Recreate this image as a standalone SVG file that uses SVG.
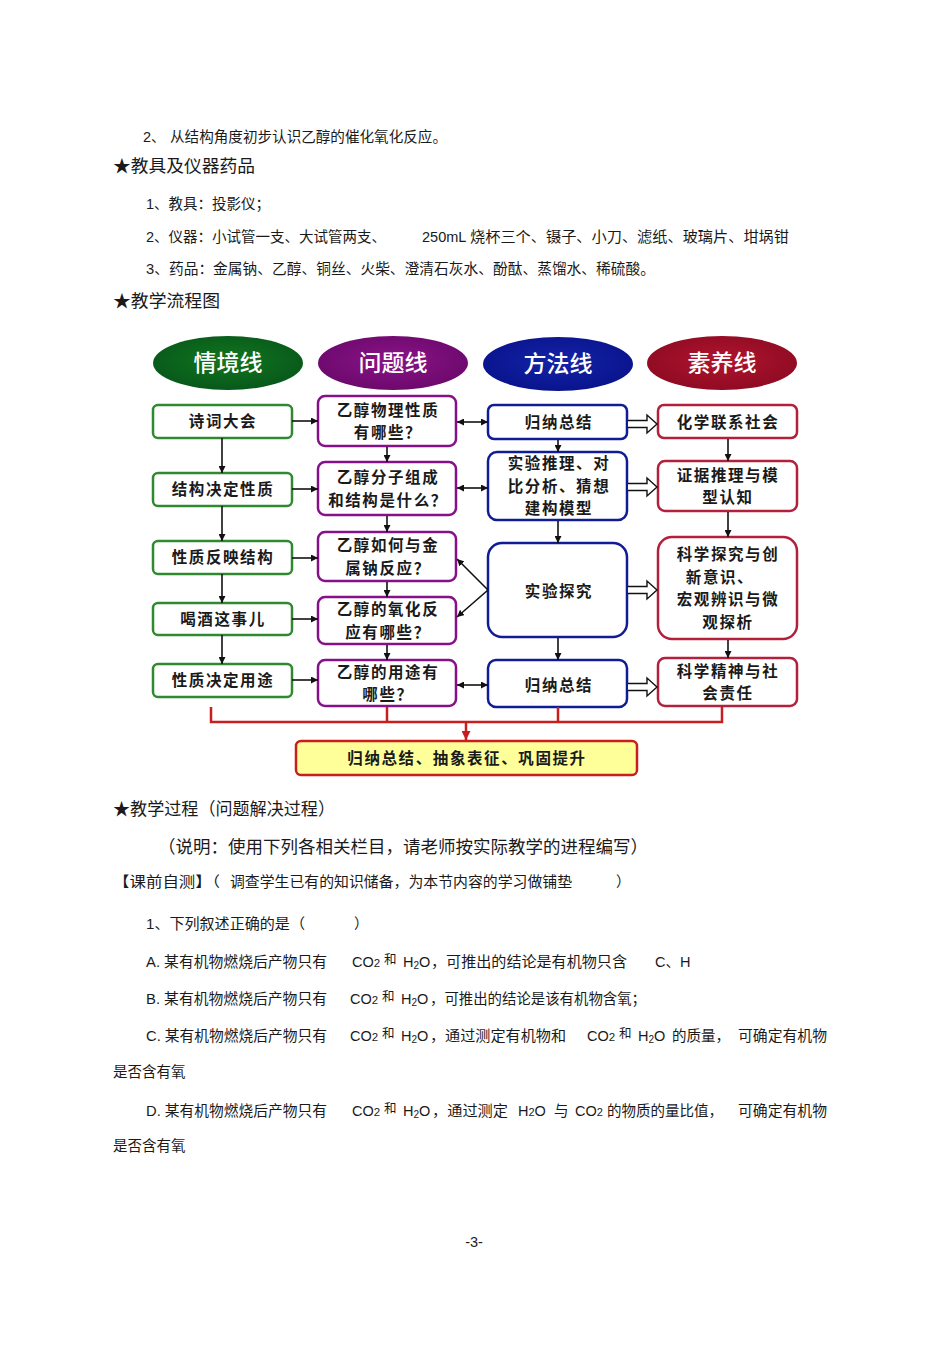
<svg xmlns="http://www.w3.org/2000/svg" width="950" height="1345" viewBox="0 0 950 1345">
<style>
.body{font-family:"Liberation Sans","Noto Sans CJK SC",sans-serif;font-size:14.5px;fill:#1a1a1a}
.hd2{font-family:"Liberation Sans","Noto Sans CJK SC",sans-serif;font-size:17.5px;fill:#1a1a1a}
.sup{font-family:"Noto Sans CJK SC",sans-serif;font-size:12.5px;fill:#1a1a1a}
.hd{font-family:"Noto Sans CJK SC","Liberation Sans",sans-serif;font-size:23px;fill:#ffffff;text-anchor:middle;font-weight:500}
.bt{font-family:"Noto Sans CJK SC","Liberation Sans",sans-serif;font-weight:700;font-size:15.5px;letter-spacing:1.6px;fill:#1a1a1a;text-anchor:middle}
.box{fill:#ffffff;stroke-width:2.5}
.g{stroke:#2f8a2f}
.p{stroke:#86108a}
.b{stroke:#101c96}
.r{stroke:#b3203c}
.ln{stroke:#111;stroke-width:1.6;fill:none}
.dbl{stroke:#111;stroke-width:1.4;fill:#ffffff}
.red{stroke:#c81e1e;stroke-width:2.5;fill:none}
</style>
<defs>
<marker id="ah" viewBox="0 0 10 10" refX="10" refY="5" markerWidth="7" markerHeight="7" markerUnits="userSpaceOnUse" orient="auto-start-reverse">
<path d="M0,0 L10,5 L0,10 z" fill="#111"/>
</marker>
<marker id="ahr" viewBox="0 0 10 10" refX="10" refY="5" markerWidth="9" markerHeight="9" markerUnits="userSpaceOnUse" orient="auto">
<path d="M0,0 L10,5 L0,10 z" fill="#c81e1e"/>
</marker>
<radialGradient id="gg" cx="50%" cy="45%" r="60%"><stop offset="0" stop-color="#12761f"/><stop offset="1" stop-color="#06561a"/></radialGradient>
<radialGradient id="gp" cx="50%" cy="45%" r="60%"><stop offset="0" stop-color="#8a1488"/><stop offset="1" stop-color="#6a086a"/></radialGradient>
<radialGradient id="gb" cx="50%" cy="45%" r="60%"><stop offset="0" stop-color="#1424a8"/><stop offset="1" stop-color="#08128a"/></radialGradient>
<radialGradient id="gr" cx="50%" cy="45%" r="60%"><stop offset="0" stop-color="#b0142e"/><stop offset="1" stop-color="#8c0a22"/></radialGradient>
</defs>

<!-- Page text top -->
<text class="body" x="143" y="142">2、</text>
<text class="body" x="170" y="142" font-size="15" textLength="277" lengthAdjust="spacingAndGlyphs">从结构角度初步认识乙醇的催化氧化反应。</text>
<text class="hd2" x="113" y="172" textLength="142" lengthAdjust="spacingAndGlyphs">★教具及仪器药品</text>
<text class="body" x="146" y="209">1、教具：投影仪；</text>
<text class="body" x="146" y="242" textLength="240" lengthAdjust="spacingAndGlyphs">2、仪器：小试管一支、大试管两支、</text>
<text class="body" x="422" y="242">250mL</text>
<text class="body" x="470" y="242" textLength="319" lengthAdjust="spacingAndGlyphs">烧杯三个、镊子、小刀、滤纸、玻璃片、坩埚钳</text>
<text class="body" x="146" y="274" textLength="509" lengthAdjust="spacingAndGlyphs">3、药品：金属钠、乙醇、铜丝、火柴、澄清石灰水、酚酞、蒸馏水、稀硫酸。</text>
<text class="hd2" x="113" y="307" textLength="107" lengthAdjust="spacingAndGlyphs">★教学流程图</text>

<!-- Flowchart headers -->
<g id="hdr-qingjing"><ellipse cx="228" cy="363" rx="75" ry="27" fill="url(#gg)"/><text class="hd" x="228" y="371">情境线</text></g>
<g id="hdr-wenti"><ellipse cx="393" cy="363" rx="75" ry="27" fill="url(#gp)"/><text class="hd" x="393" y="371">问题线</text></g>
<g id="hdr-fangfa"><ellipse cx="558" cy="364" rx="75" ry="27" fill="url(#gb)"/><text class="hd" x="558" y="372">方法线</text></g>
<g id="hdr-suyang"><ellipse cx="722" cy="363" rx="75" ry="27" fill="url(#gr)"/><text class="hd" x="722" y="371">素养线</text></g>

<!-- Column 1 green -->
<g id="g1"><rect class="box g" x="153" y="405" width="139" height="33" rx="5"/><text class="bt" x="223" y="427">诗词大会</text></g>
<g id="g2"><rect class="box g" x="153" y="473" width="139" height="33" rx="5"/><text class="bt" x="223" y="495">结构决定性质</text></g>
<g id="g3"><rect class="box g" x="153" y="541" width="139" height="33" rx="5"/><text class="bt" x="223" y="563">性质反映结构</text></g>
<g id="g4"><rect class="box g" x="153" y="603" width="139" height="32" rx="5"/><text class="bt" x="223" y="625">喝酒这事儿</text></g>
<g id="g5"><rect class="box g" x="153" y="664" width="139" height="33" rx="5"/><text class="bt" x="223" y="686">性质决定用途</text></g>

<!-- Column 2 purple -->
<g id="p1"><rect class="box p" x="318" y="396" width="138" height="50" rx="7"/><text class="bt" x="388" y="415.5">乙醇物理性质<tspan x="388" dy="22.5">有哪些？</tspan></text></g>
<g id="p2"><rect class="box p" x="318" y="462" width="138" height="53" rx="7"/><text class="bt" x="388" y="483">乙醇分子组成<tspan x="388" dy="22.5">和结构是什么？</tspan></text></g>
<g id="p3"><rect class="box p" x="318" y="532" width="138" height="49" rx="7"/><text class="bt" x="388" y="551">乙醇如何与金<tspan x="388" dy="22.5">属钠反应？</tspan></text></g>
<g id="p4"><rect class="box p" x="318" y="597" width="138" height="47" rx="7"/><text class="bt" x="388" y="615">乙醇的氧化反<tspan x="388" dy="22.5">应有哪些？</tspan></text></g>
<g id="p5"><rect class="box p" x="318" y="660" width="138" height="46" rx="7"/><text class="bt" x="388" y="677.5">乙醇的用途有<tspan x="388" dy="22.5">哪些？</tspan></text></g>

<!-- Column 3 blue -->
<g id="b1"><rect class="box b" x="488" y="405" width="139" height="34" rx="6"/><text class="bt" x="559" y="428">归纳总结</text></g>
<g id="b2"><rect class="box b" x="488" y="452" width="139" height="68" rx="9"/><text class="bt" x="559" y="469">实验推理、对<tspan x="559" dy="22.5">比分析、猜想</tspan><tspan x="559" dy="22.5">建构模型</tspan></text></g>
<g id="b3"><rect class="box b" x="488" y="543" width="139" height="94" rx="14"/><text class="bt" x="559" y="597">实验探究</text></g>
<g id="b4"><rect class="box b" x="488" y="660" width="139" height="47" rx="8"/><text class="bt" x="559" y="691">归纳总结</text></g>

<!-- Column 4 red -->
<g id="r1"><rect class="box r" x="658" y="405" width="139" height="33" rx="6"/><text class="bt" x="728" y="428">化学联系社会</text></g>
<g id="r2"><rect class="box r" x="658" y="461" width="139" height="50" rx="7"/><text class="bt" x="728" y="480.5">证据推理与模<tspan x="728" dy="22.5">型认知</tspan></text></g>
<g id="r3"><rect class="box r" x="658" y="537" width="139" height="102" rx="14"/><text class="bt" x="728" y="560">科学探究与创<tspan x="720" dy="22.5">新意识、</tspan><tspan x="728" dy="22.5">宏观辨识与微</tspan><tspan x="728" dy="22.5">观探析</tspan></text></g>
<g id="r4"><rect class="box r" x="658" y="658" width="139" height="48" rx="7"/><text class="bt" x="728" y="676.5">科学精神与社<tspan x="728" dy="22.5">会责任</tspan></text></g>

<!-- Summary box -->
<g id="summary"><rect x="296" y="741" width="341" height="34" rx="5" fill="#ffff99" stroke="#c81e1e" stroke-width="2.5"/><text class="bt" x="467" y="764">归纳总结、抽象表征、巩固提升</text></g>

<!-- Connectors -->
<g id="connectors">
<path class="ln" d="M222,438 V473" marker-end="url(#ah)"/>
<path class="ln" d="M222,506 V541" marker-end="url(#ah)"/>
<path class="ln" d="M222,574 V603" marker-end="url(#ah)"/>
<path class="ln" d="M222,635 V664" marker-end="url(#ah)"/>
<path class="ln" d="M387,447 V462" marker-end="url(#ah)"/>
<path class="ln" d="M387,516 V532" marker-end="url(#ah)"/>
<path class="ln" d="M387,582 V597" marker-end="url(#ah)"/>
<path class="ln" d="M387,645 V660" marker-end="url(#ah)"/>
<path class="ln" d="M558,440 V452" marker-end="url(#ah)"/>
<path class="ln" d="M558,521 V543" marker-end="url(#ah)"/>
<path class="ln" d="M558,638 V660" marker-end="url(#ah)"/>
<path class="ln" d="M728,439 V461" marker-end="url(#ah)"/>
<path class="ln" d="M728,512 V537" marker-end="url(#ah)"/>
<path class="ln" d="M728,640 V658" marker-end="url(#ah)"/>
<path class="ln" d="M292,421 H318" marker-end="url(#ah)"/>
<path class="ln" d="M292,489 H318" marker-end="url(#ah)"/>
<path class="ln" d="M292,558 H318" marker-end="url(#ah)"/>
<path class="ln" d="M292,619 H318" marker-end="url(#ah)"/>
<path class="ln" d="M292,680 H318" marker-end="url(#ah)"/>
<path class="ln" d="M457,422 H488" marker-start="url(#ah)" marker-end="url(#ah)"/>
<path class="ln" d="M457,488 H488" marker-start="url(#ah)" marker-end="url(#ah)"/>
<path class="ln" d="M457,685 H488" marker-start="url(#ah)" marker-end="url(#ah)"/>
<path class="ln" d="M488,590 L457,559" marker-end="url(#ah)"/>
<path class="ln" d="M488,590 L457,617" marker-end="url(#ah)"/>
<path class="dbl" d="M628,420.5 H647 V415 L657,424 L647,433 V427.5 H628"/>
<path class="dbl" d="M628,483.5 H647 V478 L657,487 L647,496 V490.5 H628"/>
<path class="dbl" d="M628,586.5 H647 V581 L657,590 L647,599 V593.5 H628"/>
<path class="dbl" d="M628,683.5 H647 V678 L657,687 L647,696 V690.5 H628"/>
<path class="red" d="M211,707 V722 H722 V707"/>
<path class="red" d="M387,707 V722"/>
<path class="red" d="M558,707 V722"/>
<path class="red" d="M466,722 V740" marker-end="url(#ahr)"/>
</g>

<!-- Page text bottom -->
<text class="hd2" x="113" y="815" textLength="222" lengthAdjust="spacingAndGlyphs">★教学过程（问题解决过程）</text>
<text class="hd2" x="158" y="853" textLength="490" lengthAdjust="spacingAndGlyphs">（说明：使用下列各相关栏目，请老师按实际教学的进程编写）</text>
<text class="body" x="113" y="887" textLength="107" lengthAdjust="spacingAndGlyphs">【课前自测】（</text>
<text class="body" x="230" y="887" textLength="342" lengthAdjust="spacingAndGlyphs">调查学生已有的知识储备，为本节内容的学习做铺垫</text>
<text class="body" x="616" y="887">）</text>
<text class="body" x="146" y="929" textLength="159" lengthAdjust="spacingAndGlyphs">1、下列叙述正确的是（</text>
<text class="body" x="354" y="929">）</text>

<text class="body" x="146" y="967" textLength="181" lengthAdjust="spacingAndGlyphs">A. 某有机物燃烧后产物只有</text>
<text class="body" x="352" y="967">CO<tspan font-size="11.5">2</tspan></text>
<text class="sup" x="384" y="964">和</text>
<text class="body" x="403" y="967">H<tspan font-size="10" dy="2">2</tspan><tspan dy="-2">O</tspan></text>
<text class="body" x="431" y="967" textLength="196" lengthAdjust="spacingAndGlyphs">，可推出的结论是有机物只含</text>
<text class="body" x="655" y="967">C、H</text>

<text class="body" x="146" y="1004" textLength="181" lengthAdjust="spacingAndGlyphs">B. 某有机物燃烧后产物只有</text>
<text class="body" x="350" y="1004">CO<tspan font-size="11.5">2</tspan></text>
<text class="sup" x="382" y="1001">和</text>
<text class="body" x="401" y="1004">H<tspan font-size="10" dy="2">2</tspan><tspan dy="-2">O</tspan></text>
<text class="body" x="430" y="1004" textLength="216" lengthAdjust="spacingAndGlyphs">，可推出的结论是该有机物含氧；</text>

<text class="body" x="146" y="1041" textLength="181" lengthAdjust="spacingAndGlyphs">C. 某有机物燃烧后产物只有</text>
<text class="body" x="350" y="1041">CO<tspan font-size="11.5">2</tspan></text>
<text class="sup" x="382" y="1038">和</text>
<text class="body" x="401" y="1041">H<tspan font-size="10" dy="2">2</tspan><tspan dy="-2">O</tspan></text>
<text class="body" x="430" y="1041" textLength="136" lengthAdjust="spacingAndGlyphs">，通过测定有机物和</text>
<text class="body" x="587" y="1041">CO<tspan font-size="11.5">2</tspan></text>
<text class="sup" x="619" y="1038">和</text>
<text class="body" x="638" y="1041">H<tspan font-size="10" dy="2">2</tspan><tspan dy="-2">O</tspan></text>
<text class="body" x="672" y="1041" textLength="58" lengthAdjust="spacingAndGlyphs">的质量，</text>
<text class="body" x="738" y="1041" textLength="89" lengthAdjust="spacingAndGlyphs">可确定有机物</text>
<text class="body" x="113" y="1077">是否含有氧</text>

<text class="body" x="146" y="1116" textLength="181" lengthAdjust="spacingAndGlyphs">D. 某有机物燃烧后产物只有</text>
<text class="body" x="352" y="1116">CO<tspan font-size="11.5">2</tspan></text>
<text class="sup" x="384" y="1113">和</text>
<text class="body" x="403" y="1116">H<tspan font-size="10" dy="2">2</tspan><tspan dy="-2">O</tspan></text>
<text class="body" x="432" y="1116" textLength="76" lengthAdjust="spacingAndGlyphs">，通过测定</text>
<text class="body" x="518" y="1116">H<tspan font-size="11">2</tspan>O</text>
<text class="body" x="554" y="1116">与</text>
<text class="body" x="575" y="1116">CO<tspan font-size="11">2</tspan></text>
<text class="body" x="607" y="1116" textLength="116" lengthAdjust="spacingAndGlyphs">的物质的量比值，</text>
<text class="body" x="738" y="1116" textLength="89" lengthAdjust="spacingAndGlyphs">可确定有机物</text>
<text class="body" x="113" y="1151">是否含有氧</text>

<text class="body" x="474" y="1247" font-size="12" text-anchor="middle">-3-</text>
</svg>
